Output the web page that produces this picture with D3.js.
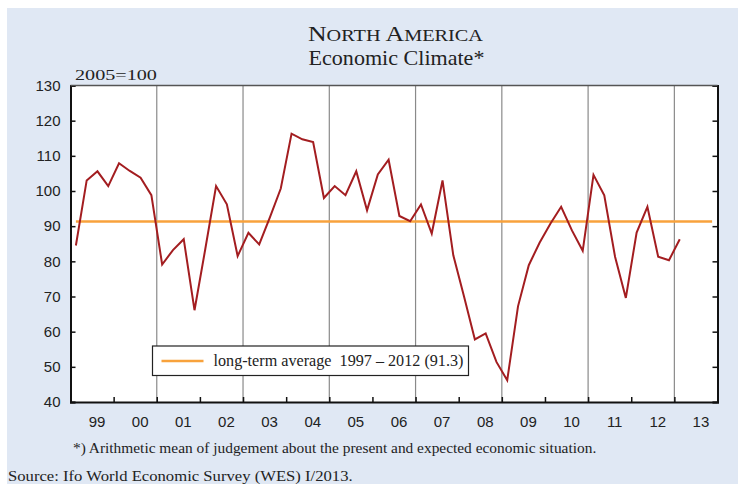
<!DOCTYPE html>
<html>
<head>
<meta charset="utf-8">
<script src="https://cdn.jsdelivr.net/npm/d3@7"></script>
<style>
  html, body { margin: 0; padding: 0; background: #fff; }
  svg { display: block; }
</style>
</head>
<body>
<div id="chart"></div>
<script>
// quarterly economic climate values, 1999 Q1 .. 2013 Q1
const startYear = 1999;
const climate = [
  84.5, 103.0, 105.6, 101.4, 107.9, 105.7, 103.8, 98.8,
  79.1, 83.2, 86.3, 66.1, 83.5, 101.4, 96.2, 81.5,
  88.1, 84.8, 92.6, 100.7, 116.3, 114.7, 113.9, 98.0,
  101.4, 98.8, 105.6, 94.5, 104.7, 108.9, 92.9, 91.4,
  96.2, 87.9, 103.0, 81.7, 69.9, 57.8, 59.5, 51.4,
  46.2, 67.2, 78.9, 85.3, 90.7, 95.5, 88.8, 83.0,
  104.6, 98.8, 81.3, 69.6, 88.2, 95.5, 81.3, 80.3,
  86.3
];
const longTermAvg = 91.3;
const avgSpan = [1999.125, 2013.875];
const yearTicks = d3.range(2000, 2014);
const yearLabels = ['99', '00', '01', '02', '03', '04', '05', '06', '07', '08', '09', '10', '11', '12', '13'];
const gridYears = [2001, 2003, 2005, 2007, 2009, 2011, 2013];
const yTicks = [40, 50, 60, 70, 80, 90, 100, 110, 120, 130];

const width = 739;
const height = 484;
const margin = {top: 85.5, right: 21.5, bottom: 82, left: 70.5};
const innerW = width - margin.left - margin.right;
const innerH = height - margin.top - margin.bottom;

const serif = '"Liberation Serif", "Times New Roman", serif';
const sans = '"Liberation Sans", Arial, sans-serif';

// the source typesetting runs wider than Liberation Serif, so stretch
// a text horizontally around its anchor until it covers the given width
function stretch(sel, anchorX, targetW) {
  const w = sel.node().getComputedTextLength();
  const k = targetW / w;
  sel.attr('transform', 'translate(' + anchorX + ',0) scale(' + k + ',1) translate(' + (-anchorX) + ',0)');
}

const svg = d3.select('#chart')
  .append('svg')
  .attr('width', width)
  .attr('height', height);

svg.append('rect')
  .attr('x', 7).attr('y', 8)
  .attr('width', width - 8).attr('height', height - 8)
  .attr('fill', '#e0e8f4');

// title
const title = svg.append('text')
  .attr('x', 395.5).attr('y', 41)
  .attr('text-anchor', 'middle')
  .attr('font-family', serif)
  .attr('fill', '#222');
title.append('tspan').attr('font-size', 21).text('N');
title.append('tspan').attr('font-size', 16.5).text('ORTH ');
title.append('tspan').attr('font-size', 21).text('A');
title.append('tspan').attr('font-size', 16.5).text('MERICA');
stretch(title, 395.5, 175);

const subtitle = svg.append('text')
  .attr('x', 396.5).attr('y', 65)
  .attr('text-anchor', 'middle')
  .attr('font-family', serif)
  .attr('font-size', 20)
  .attr('fill', '#222')
  .text('Economic Climate*');
stretch(subtitle, 396.5, 176);

const unit = svg.append('text')
  .attr('x', 75).attr('y', 80)
  .attr('font-family', serif)
  .attr('font-size', 15.5)
  .attr('fill', '#222')
  .text('2005=100');
stretch(unit, 75, 82);

const chart = svg.append('g')
  .attr('transform', 'translate(' + margin.left + ',' + margin.top + ')');

const x = d3.scaleLinear()
  .domain([startYear, 2014])
  .range([0, innerW]);

const y = d3.scaleLinear()
  .domain([40, 130])
  .range([innerH, 0]);

chart.append('rect')
  .attr('width', innerW).attr('height', innerH)
  .attr('fill', '#fff');

// vertical separators every two years
chart.selectAll('.grid')
  .data(gridYears)
  .enter()
  .append('line')
  .attr('class', 'grid')
  .attr('x1', d => x(d)).attr('x2', d => x(d))
  .attr('y1', 0).attr('y2', innerH)
  .attr('stroke', '#8a8a8a')
  .attr('stroke-width', 1.2);

// long-term average
chart.append('line')
  .attr('x1', x(avgSpan[0])).attr('x2', x(avgSpan[1]))
  .attr('y1', y(longTermAvg)).attr('y2', y(longTermAvg))
  .attr('stroke', '#f8a23c')
  .attr('stroke-width', 2.5);

// climate series, plotted at quarter midpoints
const drawLine = d3.line()
  .x((d, i) => x(startYear + i * 0.25 + 0.125))
  .y(d => y(d));

chart.append('path')
  .datum(climate)
  .attr('d', drawLine)
  .attr('fill', 'none')
  .attr('stroke', '#a31d20')
  .attr('stroke-width', 2)
  .attr('stroke-linejoin', 'miter');

// axes
const yAxis = d3.axisLeft(y).tickValues(yTicks).tickSize(-5).tickPadding(10);
const gy = chart.append('g').call(yAxis);
gy.selectAll('text')
  .attr('font-family', sans)
  .attr('font-size', 15)
  .attr('fill', '#222');

const yAxisR = d3.axisRight(y).tickValues(yTicks).tickSize(-5).tickFormat('');
chart.append('g')
  .attr('transform', 'translate(' + innerW + ',0)')
  .call(yAxisR);

const xAxis = d3.axisBottom(x).tickValues(yearTicks).tickSize(-5).tickFormat('');
chart.append('g')
  .attr('transform', 'translate(0,' + innerH + ')')
  .call(xAxis);

chart.selectAll('.domain')
  .attr('stroke', '#111')
  .attr('stroke-width', 2);
chart.selectAll('.tick line')
  .attr('stroke', '#111')
  .attr('stroke-width', 1.5);

// top border
chart.append('line')
  .attr('x1', 0).attr('x2', innerW)
  .attr('y1', 0).attr('y2', 0)
  .attr('stroke', '#555')
  .attr('stroke-width', 1.5);

chart.selectAll('.xlabel')
  .data(yearLabels)
  .enter()
  .append('text')
  .attr('class', 'xlabel')
  .attr('x', (d, i) => x(startYear + i + 0.5) + 5)
  .attr('y', innerH + 25)
  .attr('text-anchor', 'middle')
  .attr('font-family', sans)
  .attr('font-size', 15)
  .attr('fill', '#222')
  .text(d => d);

// legend
const legend = svg.append('g').attr('transform', 'translate(152.5,346)');
legend.append('rect')
  .attr('width', 316).attr('height', 29.5)
  .attr('fill', '#fff')
  .attr('stroke', '#222')
  .attr('stroke-width', 1.2);
legend.append('line')
  .attr('x1', 9).attr('x2', 51)
  .attr('y1', 15).attr('y2', 15)
  .attr('stroke', '#f8a23c')
  .attr('stroke-width', 2.5);
const legendText = legend.append('text')
  .attr('x', 61).attr('y', 20)
  .attr('font-family', serif)
  .attr('font-size', 16.5)
  .attr('fill', '#222')
  .attr('xml:space', 'preserve')
  .text('long-term average  1997 \u2013 2012 (91.3)');
stretch(legendText, 61, 250);

// footnotes
const note = svg.append('text')
  .attr('x', 73).attr('y', 453)
  .attr('font-family', serif)
  .attr('font-size', 15)
  .attr('fill', '#222')
  .text('*) Arithmetic mean of judgement about the present and expected economic situation.');
stretch(note, 73, 524);

const source = svg.append('text')
  .attr('x', 8).attr('y', 481)
  .attr('font-family', serif)
  .attr('font-size', 15.5)
  .attr('fill', '#222')
  .text('Source: Ifo World Economic Survey (WES) I/2013.');
stretch(source, 8, 345);
</script>
</body>
</html>
